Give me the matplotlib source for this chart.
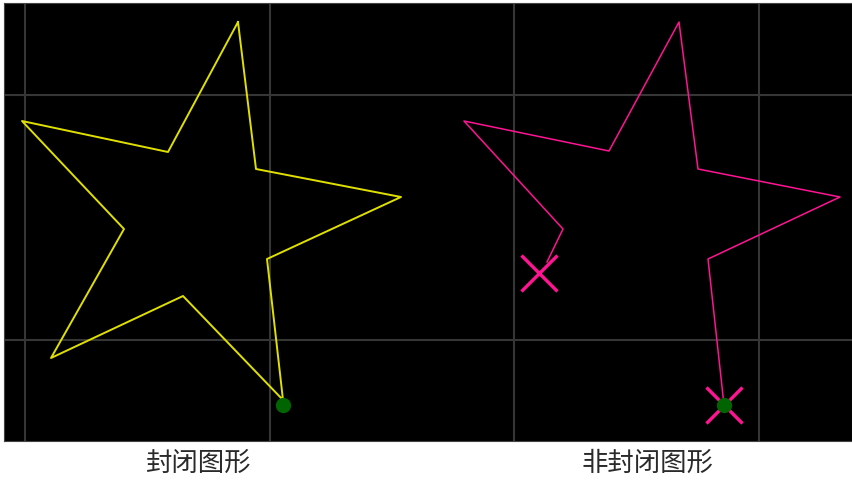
import matplotlib

matplotlib.use("Agg")
import matplotlib.pyplot as plt

# star vertices (screen units, y grows downward)
closed_x = [238, 256, 401, 267, 283, 183, 51, 124, 22, 168, 238]
closed_y = [22, 169, 197, 259, 400, 296, 358, 229, 121, 152, 22]

open_x = [547, 563, 464, 609, 679, 698, 840, 708, 724]
open_y = [262, 229, 121, 151, 22, 169, 197, 259, 405]

start_pt = (539, 273)
end_pt = (724, 405)
closed_end = (283, 405)

grid_x = [25, 269.5, 514, 758.5]
grid_y = [95, 340]

labels = ["封闭图形", "非封闭图形"]
label_x = [199, 647]

plt.rcParams["font.family"] = ["Noto Sans CJK SC", "DejaVu Sans"]

fig = plt.figure(figsize=(8.53, 4.82), dpi=100, facecolor="white")
ax = fig.add_axes([4 / 853, 41 / 482, 848 / 853, 438 / 482])
ax.set_facecolor("black")
ax.set_xlim(4, 852)
ax.set_ylim(441, 3)

ax.set_xticks(grid_x)
ax.set_yticks(grid_y)
ax.tick_params(length=0, labelbottom=False, labelleft=False)
ax.grid(True, color="#363636", lw=1.5)
for s in ax.spines.values():
    s.set_color("#444444")
    s.set_linewidth(0.8)

ax.plot(closed_x, closed_y, color="#e0e000", lw=1.4, zorder=3)
ax.plot(*closed_end, "o", color="#006400", ms=10, zorder=5)

ax.plot(open_x, open_y, color="#ff1493", lw=1.1, zorder=3)
ax.plot(*start_pt, "x", color="#ff1493", ms=26, mew=2.4, zorder=4)
ax.plot(*end_pt, "x", color="#ff1493", ms=26, mew=2.4, zorder=4)
ax.plot(*end_pt, "o", color="#006400", ms=10, zorder=5)

for lx, txt in zip(label_x, labels):
    fig.text(lx / 853, 1 - 463 / 482, txt, ha="center", va="center",
             fontsize=19, color="#2a2a2a")

fig.savefig("out.png", dpi=100, facecolor="white")
